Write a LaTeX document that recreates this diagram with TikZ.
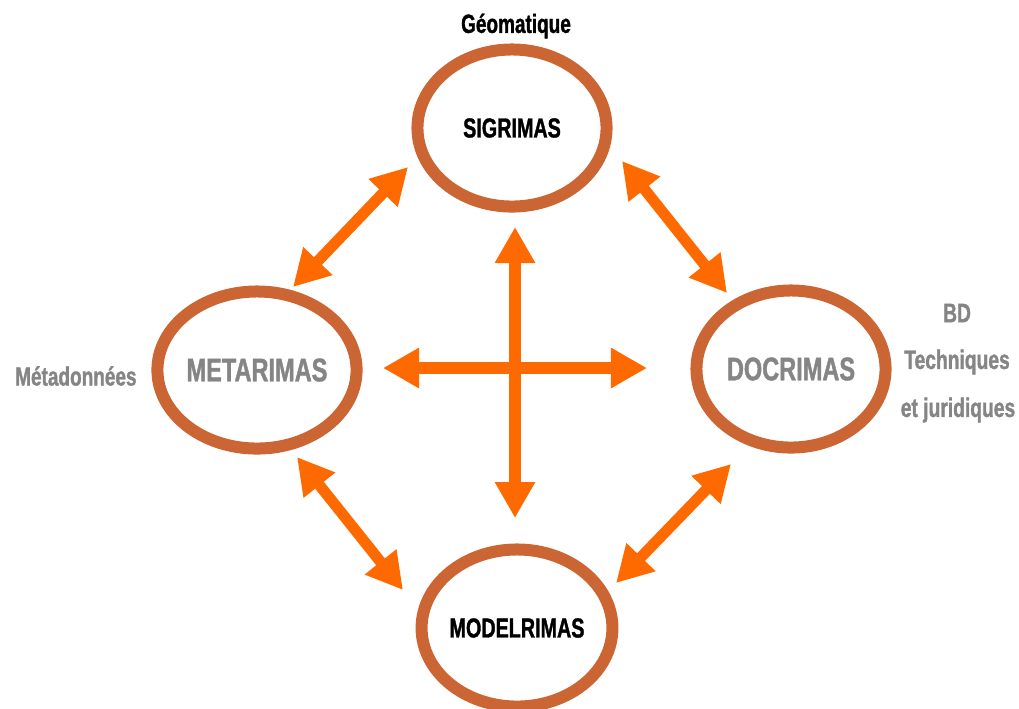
\documentclass[tikz,border=0pt]{standalone}
\usepackage{fontspec}
\newfontfamily\impact{Liberation Sans Bold}[FakeStretch=0.72,FakeBold=1.2]
\usetikzlibrary{arrows.meta,positioning,shapes.geometric}

\definecolor{ringbrown}{HTML}{CB6634}
\definecolor{arroworange}{HTML}{FF6A00}
\definecolor{labelgray}{HTML}{858585}

\begin{document}
\begin{tikzpicture}[x=0.01cm,y=-0.01cm,on grid,
			rima/.style={ellipse, draw=ringbrown, line width=0.12cm, minimum width=1.89cm, minimum height=1.57cm, inner sep=0pt},
			dark/.style={text=black, font=\impact\fontsize{7.8}{9}\selectfont},
			pale/.style={text=labelgray, font=\impact\fontsize{9.3}{11}\selectfont},
			side/.style={text=labelgray, font=\impact\fontsize{7.6}{9}\selectfont},
			link/.style={<->, >={Triangle[width=0.38cm,length=0.36cm]}, line width=0.11cm, draw=arroworange}
		]
		\useasboundingbox (0,0) rectangle (1019,708);
		
		\node[rima,dark] (r_sig) at (512,128) {SIGRIMAS};
		\node[rima,pale] (r_meta) at (257,370) {METARIMAS};
		\node[rima,pale] (r_doc) at (791,369) {DOCRIMAS};
		\node[rima,dark] (r_model) at (517,628) {MODELRIMAS};
		
		\node[dark,font=\impact\fontsize{7.5}{9}\selectfont] (l_sig) [above=1.02cm of r_sig, xshift=0.04cm] {Géomatique};
		\node[side,font=\impact\fontsize{7.5}{9}\selectfont] (l_meta) [left=1.81cm of r_meta, yshift=-0.06cm] {Métadonnées};
		\node[side] (l_bd) at (957,313) {BD};
		\node[side] (l_tech) [below=0.49cm of l_bd] {Techniques};
		\node[side] (l_jur) [below=0.48cm of l_tech, xshift=0.01cm] {et juridiques};
		
		% ends of the arrows
		\coordinate (c_n) at (515,227);
		\coordinate (c_s) at (515,518);
		\coordinate (c_w) at (383,368);
		\coordinate (c_e) at (647,368);
		\coordinate (sm_a) at (408,167);
		\coordinate (sm_b) at (293,287);
		\coordinate (sd_a) at (622,161);
		\coordinate (sd_b) at (727,293);
		\coordinate (mm_a) at (297,457);
		\coordinate (mm_b) at (403,590);
		\coordinate (dm_a) at (731,464);
		\coordinate (dm_b) at (616,583);
		
		\draw[link, line width=0.12cm] (c_n) -- (c_s);
		\draw[link, line width=0.12cm] (c_w) -- (c_e);
		\draw[link] (sm_a) -- (sm_b);
		\draw[link] (sd_a) -- (sd_b);
		\draw[link] (mm_a) -- (mm_b);
		\draw[link] (dm_a) -- (dm_b);
	\end{tikzpicture}
\end{document}
